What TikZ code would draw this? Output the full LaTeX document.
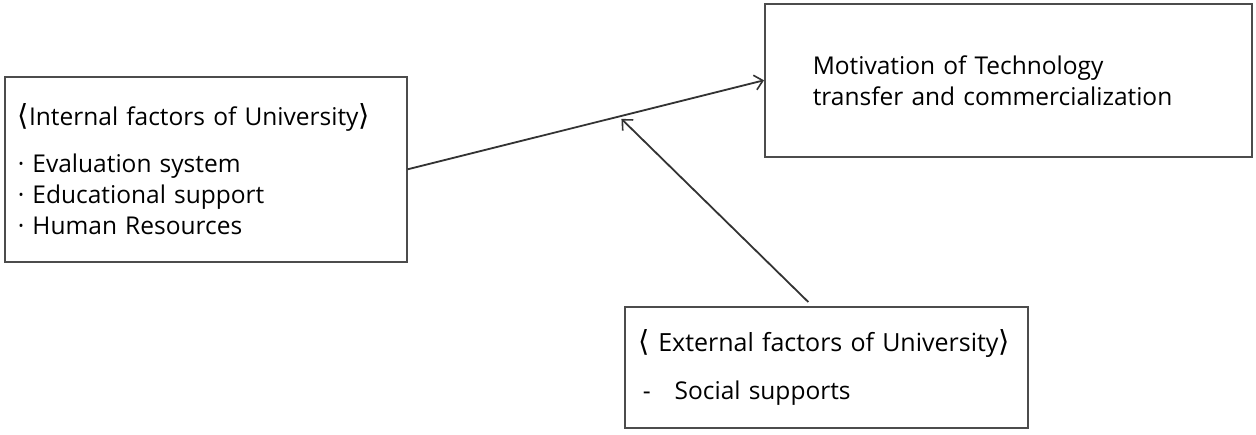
\documentclass[tikz,border=0pt]{standalone}
\usepackage{fontspec}
\setmainfont{Open Sans}
\newfontfamily\bracketfont{DejaVu Sans}
\usetikzlibrary{arrows.meta,calc}
\tikzset{
  factorbox/.style={draw=black!70, line width=1.6pt, rectangle, anchor=north west,
    align=left, font=\fontsize{24.5}{31}\selectfont},
  linkarrow/.style={draw=black!80, line width=1.8pt, -{Straight Barb[length=8pt,width=15pt,line width=1.6pt]}}
}
\newcommand{\lbr}{{\bracketfont\fontsize{29}{29}\selectfont ⟨}}
\newcommand{\rbr}{{\bracketfont\fontsize{29}{29}\selectfont ⟩}}
\begin{document}
\begin{tikzpicture}[x=1pt,y=-1pt]
		\useasboundingbox (0,0) rectangle (1256,434);
		
		% Internal factors
		\node[factorbox, minimum width=402pt, minimum height=185pt, text width=376pt, inner xsep=13pt] (int) at (4,76)
		  {{\fontsize{24.5}{31}\selectfont\lbr Internal factors of University\rbr}\\[16pt]
		   · Evaluation system\\
		   · Educational support\\
		   · Human Resources};
		
		% Motivation
		\node[factorbox, minimum width=487pt, minimum height=153pt, text width=391pt, inner xsep=48pt] (mot) at (764,3)
		  {\fontsize{24.5}{30}\selectfont Motivation of Technology\\
		   transfer and commercialization};
		
		% External factors
		\node[factorbox, minimum width=403pt, minimum height=121pt, text width=375pt, inner xsep=14pt] (ext) at (624,306)
		  {\fontsize{25}{31}\selectfont\lbr{} External factors of University\rbr\\[17pt]
		   \fontsize{24.5}{31}\selectfont\hspace{4pt}-\hspace{24pt}Social supports};
		
		% Arrows
		\coordinate (meet) at ($(int.east)!0.6!(mot.west) + (0,3)$);
		\coordinate (extstart) at ($(ext.north) + (-18,-4)$);
		\draw[linkarrow] (int.east) -- (mot.west);
		\draw[linkarrow] (extstart) -- (meet);
	\end{tikzpicture}
\end{document}
